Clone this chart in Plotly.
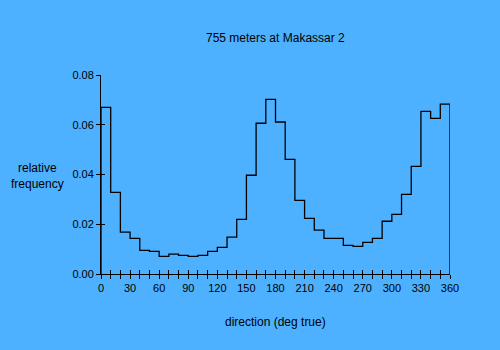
import plotly.graph_objects as go

bin_edges = list(range(0, 370, 10))
freq = [0.0670, 0.0328, 0.0168, 0.0143, 0.0095, 0.0091, 0.0071, 0.0080, 0.0075,
        0.0071, 0.0075, 0.0091, 0.0107, 0.0148, 0.0220, 0.0397, 0.0606, 0.0702,
        0.0611, 0.0461, 0.0296, 0.0224, 0.0176, 0.0143, 0.0143, 0.0115, 0.0111,
        0.0127, 0.0143, 0.0212, 0.0240, 0.0320, 0.0433, 0.0654, 0.0626, 0.0683]
x_labels = [str(v) if v % 30 == 0 else "" for v in bin_edges]
y_ticks = [0.0, 0.02, 0.04, 0.06, 0.08]
y_labels = ["0.00", "0.02", "0.04", "0.06", "0.08"]

BG = "#4db1ff"
FONT = "Liberation Sans, Arial, sans-serif"

xs = [0] + bin_edges
ys = [0] + freq + [0]

fig = go.Figure()
fig.add_trace(go.Scatter(x=xs, y=ys, mode="lines", line=dict(shape="hv", color="black", width=1.3),
                         hoverinfo="skip", showlegend=False))
fig.add_trace(go.Scatter(x=[0, 360], y=[0, 0.08], mode="markers", marker=dict(opacity=0),
                         xaxis="x2", yaxis="y2", hoverinfo="skip", showlegend=False))

fig.update_layout(
    width=500, height=350,
    paper_bgcolor=BG, plot_bgcolor=BG,
    margin=dict(l=101, r=50, t=75, b=76),
    font=dict(family=FONT, size=11, color="black"),
    xaxis=dict(range=[0, 360], tickvals=bin_edges, ticktext=x_labels, ticks="outside",
               ticklen=4, tickwidth=1, tickcolor="black", showline=True, linecolor="black",
               linewidth=1, showgrid=False, zeroline=False, fixedrange=True),
    yaxis=dict(range=[0, 0.08], tickvals=y_ticks, ticktext=y_labels, ticks="outside",
               ticklen=4, tickwidth=1, tickcolor="black", showline=True, linecolor="black",
               linewidth=1, showgrid=False, zeroline=False, fixedrange=True),
    xaxis2=dict(range=[0, 360], overlaying="x", anchor="y2", side="bottom", tickvals=bin_edges,
                showticklabels=False, ticks="inside", ticklen=4, tickcolor="black",
                showline=False, showgrid=False, zeroline=False),
    yaxis2=dict(range=[0, 0.08], overlaying="y", anchor="x2", side="left", tickvals=y_ticks,
                showticklabels=False, ticks="inside", ticklen=4, tickcolor="black",
                showline=False, showgrid=False, zeroline=False),
    annotations=[
        dict(text="755 meters at Makassar 2", xref="paper", yref="paper", x=0.5, y=1,
             yshift=37, showarrow=False, font=dict(size=12), yanchor="middle"),
        dict(text="direction (deg true)", xref="paper", yref="paper", x=0.5, y=0,
             yshift=-48, showarrow=False, font=dict(size=12), yanchor="middle"),
        dict(text="relative<br>frequency", xref="paper", yref="paper", x=0, y=0.5,
             xshift=-64, yshift=-1, showarrow=False, font=dict(size=12), xanchor="center",
             yanchor="middle"),
    ],
)

fig.write_html("out.html")
